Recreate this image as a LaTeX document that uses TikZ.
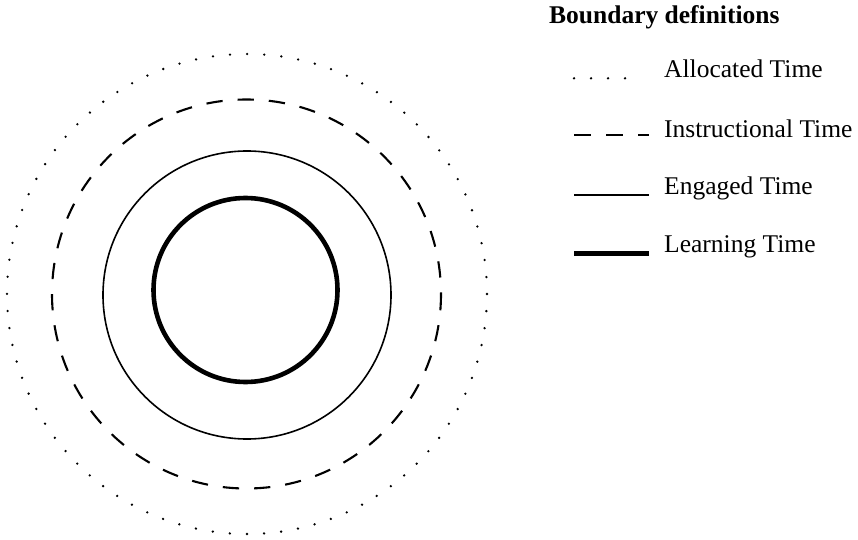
\documentclass[tikz,border=0pt]{standalone}
\usepackage{fontspec}
\setmainfont{Liberation Serif}
\begin{document}
\begin{tikzpicture}[x=1bp,y=-1bp,
  allocated/.style={line width=2.6bp, line cap=round, dash pattern=on 0bp off 17.14bp},
  instructional/.style={line width=2.1bp, dash pattern=on 16.3bp off 15bp},
  engaged/.style={line width=1.6bp},
  learning/.style={line width=4.6bp},
  legendtext/.style={anchor=base west, inner sep=0pt, font=\fontsize{25.6}{30}\selectfont},
  titletext/.style={anchor=base west, inner sep=0pt, font=\fontsize{25.6}{30}\selectfont\bfseries}]
  \useasboundingbox (0,0) rectangle (858,540);

  % nested boundaries
  \coordinate (c) at (247,294);
  \draw[allocated] (c) circle [radius=240];
  \draw[instructional] (246.5,294) circle [radius=194.5];
  \draw[engaged] (247,295) circle [radius=144];
  \draw[learning] (245.5,290) circle [radius=92];

  % legend
  \node[titletext] (title) at (549,24) {Boundary definitions};

  \foreach \x in {574,591,608,625}
    \fill (\x,78.3) circle [radius=1.3];
  \node[legendtext] (alloc) at (664,78) {Allocated Time};

  \coordinate (d1) at (574,135);
  \coordinate (d2) at (649,135);
  \draw[line width=2.1bp, dash pattern=on 17bp off 15bp] (d1) -- (d2);
  \node[legendtext] (instr) at (664,138) {Instructional Time};

  \coordinate (e1) at (574,195);
  \coordinate (e2) at (649,195);
  \draw[engaged] (e1) -- (e2);
  \node[legendtext] (eng) at (664,195) {Engaged Time};

  \coordinate (l1) at (574,253.3);
  \coordinate (l2) at (649,253.3);
  \draw[learning] (l1) -- (l2);
  \node[legendtext] (learn) at (664,253) {Learning Time};
\end{tikzpicture}
\end{document}
